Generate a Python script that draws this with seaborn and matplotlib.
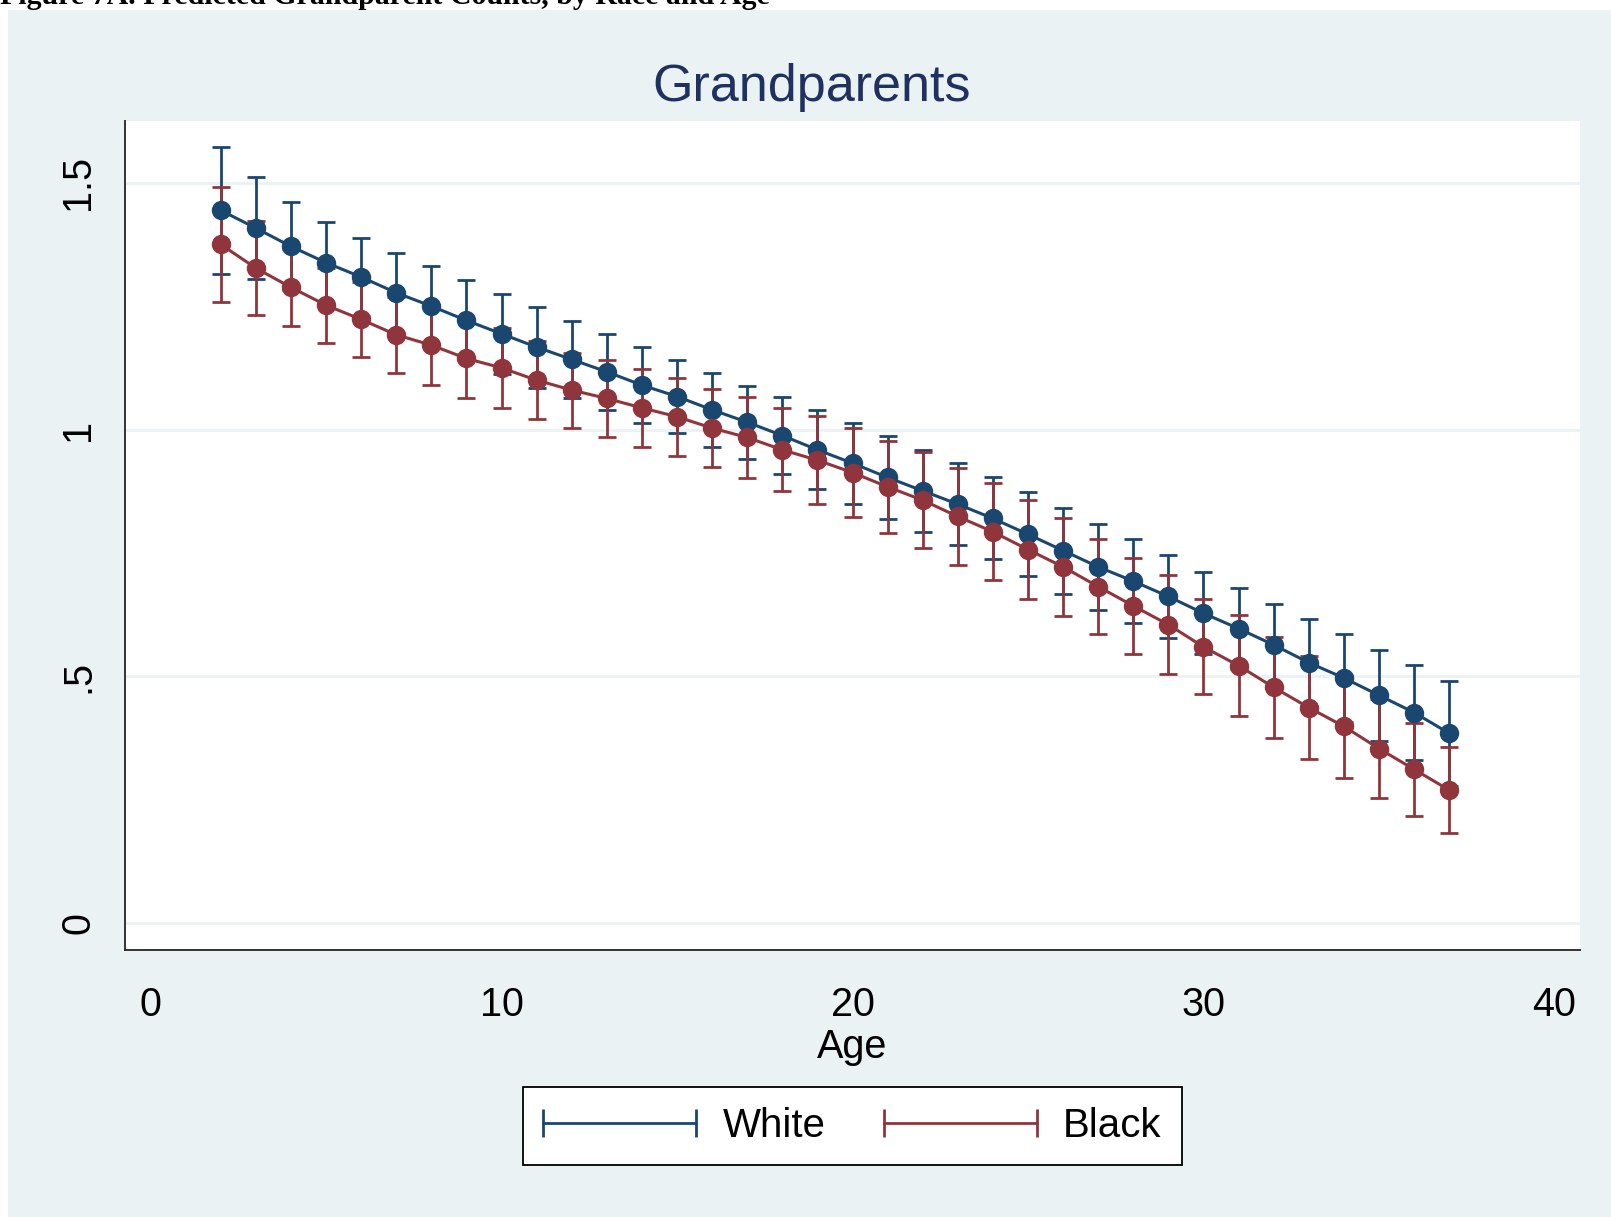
import numpy as np
import pandas as pd
import seaborn as sns
import matplotlib
matplotlib.use("Agg")
import matplotlib.pyplot as plt
from matplotlib.lines import Line2D
from matplotlib.patches import Rectangle
from matplotlib.legend_handler import HandlerLine2D

# ---------------- data ----------------
ages = list(range(2, 38))
white_pred = [1.444, 1.408, 1.371, 1.338, 1.309, 1.277, 1.250, 1.221, 1.194, 1.167,
              1.142, 1.117, 1.090, 1.067, 1.040, 1.015, 0.988, 0.959, 0.932, 0.903,
              0.876, 0.849, 0.820, 0.788, 0.755, 0.722, 0.693, 0.662, 0.628, 0.597,
              0.564, 0.528, 0.497, 0.462, 0.427, 0.385]
white_hw = [0.129, 0.104, 0.089, 0.083, 0.079, 0.081, 0.081, 0.081, 0.081, 0.082,
            0.078, 0.077, 0.077, 0.074, 0.075, 0.074, 0.078, 0.080, 0.082, 0.084,
            0.083, 0.083, 0.083, 0.085, 0.087, 0.087, 0.085, 0.084, 0.083, 0.082,
            0.083, 0.088, 0.090, 0.092, 0.096, 0.106]
black_pred = [1.375, 1.327, 1.288, 1.252, 1.223, 1.192, 1.171, 1.144, 1.125, 1.100,
              1.080, 1.063, 1.044, 1.026, 1.003, 0.984, 0.959, 0.938, 0.913, 0.884,
              0.857, 0.824, 0.793, 0.757, 0.722, 0.682, 0.643, 0.605, 0.560, 0.522,
              0.478, 0.437, 0.399, 0.354, 0.312, 0.270]
black_hw = [0.117, 0.095, 0.078, 0.076, 0.076, 0.077, 0.080, 0.080, 0.081, 0.079,
            0.076, 0.077, 0.079, 0.079, 0.079, 0.083, 0.084, 0.089, 0.091, 0.093,
            0.097, 0.098, 0.098, 0.100, 0.099, 0.096, 0.097, 0.100, 0.096, 0.102,
            0.102, 0.104, 0.104, 0.100, 0.094, 0.087]
races = ["White", "Black"]
x_ticks = [0, 10, 20, 30, 40]
y_ticks = [0, 0.5, 1, 1.5]
y_tick_labels = ["0", ".5", "1", "1.5"]

df = pd.DataFrame({
    "age": ages * 2,
    "pred": white_pred + black_pred,
    "hw": white_hw + black_hw,
    "race": ["White"] * len(ages) + ["Black"] * len(ages),
})

# ---------------- style ----------------
BG = "#EAF2F3"
NAVY = "#1A476F"
MAROON = "#90353B"
palette = {"White": NAVY, "Black": MAROON}

sns.set_theme(style="white")
plt.rcParams["font.family"] = ["Liberation Sans", "DejaVu Sans"]

W, H = 1611, 1217
fig = plt.figure(figsize=(W / 100, H / 100), dpi=100, facecolor="white")
fig.patches.append(Rectangle((8 / W, 0), 1, 1 - 10 / H, transform=fig.transFigure,
                             facecolor=BG, edgecolor="none", zorder=-5))

ax = fig.add_axes([125 / W, 1 - 950 / H, (1580 - 125) / W, (950 - 121) / H])
ax.set_facecolor("white")

# confidence intervals (capped bars)
for race in races:
    sub = df[df["race"] == race]
    ax.errorbar(sub["age"], sub["pred"], yerr=sub["hw"], fmt="none",
                ecolor=palette[race], elinewidth=2.0, capsize=6.8, capthick=2.0,
                zorder=2)

# connected points
sns.lineplot(data=df, x="age", y="pred", hue="race", hue_order=races,
             palette=palette, marker="o", markersize=14, markeredgewidth=0,
             linewidth=2.2, legend=False, ax=ax, zorder=3, errorbar=None)

ax.set_xlim(-0.73, 40.73)
ax.set_ylim(-0.054, 1.625)
ax.set_xticks(x_ticks)
ax.set_xticklabels([str(t) for t in x_ticks])
ax.set_yticks(y_ticks)
ax.set_yticklabels(y_tick_labels, rotation=90, va="center")
ax.yaxis.grid(True, color=BG, linewidth=2)
ax.xaxis.grid(False)
ax.set_axisbelow(True)

for s in ["top", "right"]:
    ax.spines[s].set_visible(False)
for s in ["left", "bottom"]:
    ax.spines[s].set_color("#333333")
    ax.spines[s].set_linewidth(1.4)

ax.tick_params(axis="both", direction="out", length=10, width=1.4,
               color="#333333", labelsize=28.5, labelcolor="black")
ax.tick_params(axis="x", pad=16)
ax.tick_params(axis="y", pad=10)

ax.set_xlabel("Age", fontsize=28.5, color="black", labelpad=3)
ax.set_ylabel("")

# title and caption
fig.text(812 / W, 1 - 101 / H, "Grandparents", fontsize=37.5, color="#1E3160",
         ha="center", va="baseline")
fig.text(0.0, 1 - 4 / H, "Figure 7A. Predicted Grandparent Counts, by Race and Age",
         family="Liberation Serif", weight="bold", fontsize=21.5,
         ha="left", va="baseline", color="black")

# legend
handles = [Line2D([], [], color=palette[r], lw=2, marker="|", markersize=20,
                  markeredgewidth=2) for r in races]
leg = fig.legend(handles, races, loc="center",
                 bbox_to_anchor=(852.5 / W, 1 - 1126 / H), ncol=2, numpoints=2,
                 frameon=True, fancybox=False, edgecolor="black", facecolor="white",
                 framealpha=1, fontsize=29, handlelength=3.8, handletextpad=0.65,
                 columnspacing=1.45, borderpad=0.5,
                 handler_map={Line2D: HandlerLine2D(marker_pad=0)})
leg.get_frame().set_linewidth(1.3)
for t in leg.get_texts():
    t.set_color("black")

fig.savefig("out.png", dpi=100, facecolor="white")
